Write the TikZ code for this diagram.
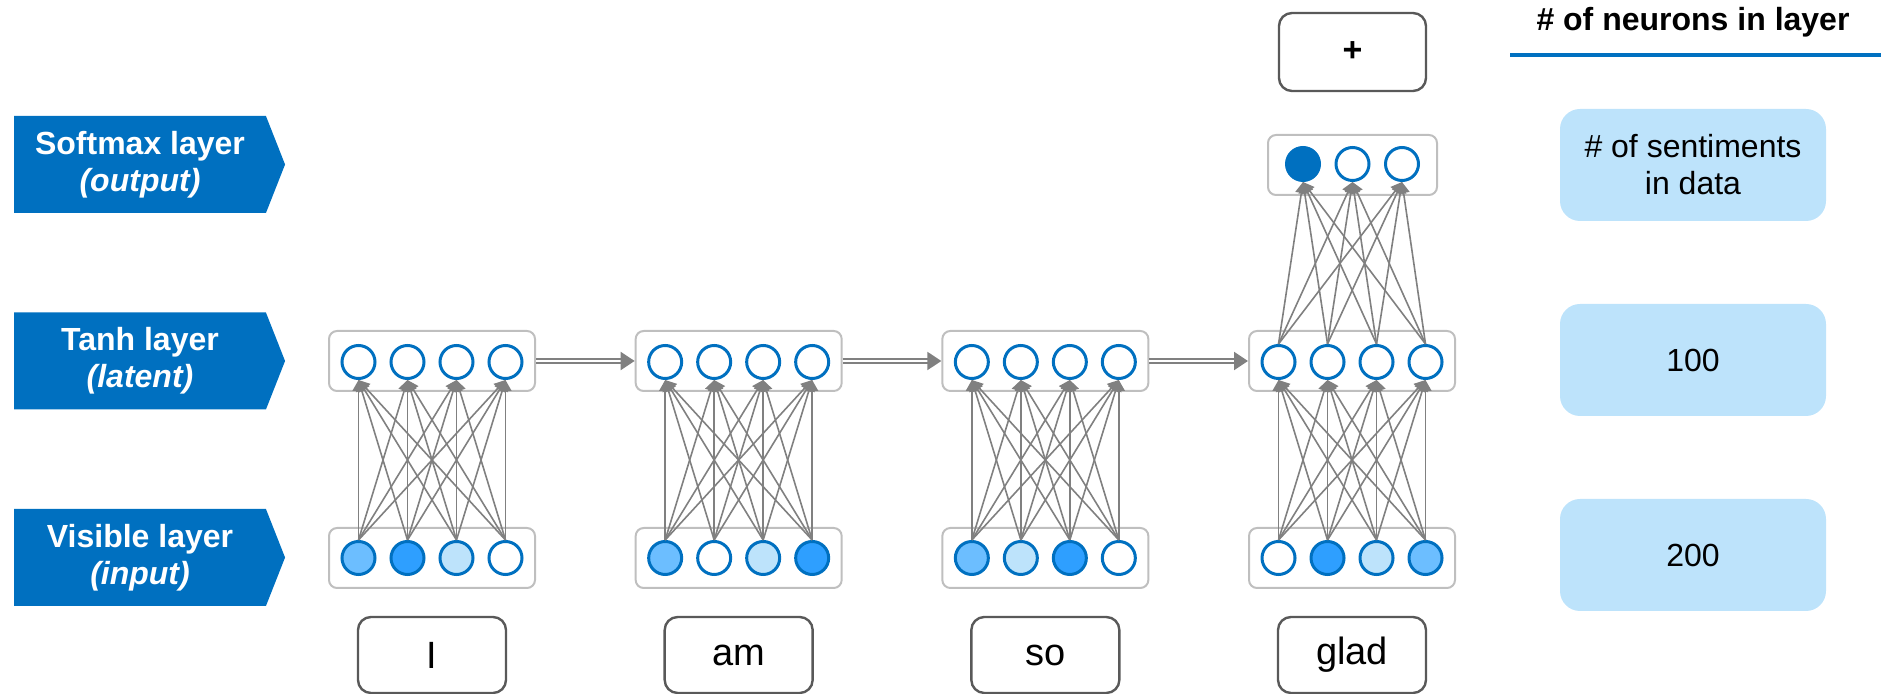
\documentclass[tikz,border=0pt]{standalone}
\usepackage{fontspec}
\setmainfont{Liberation Sans}
\usetikzlibrary{arrows.meta,shapes.symbols}

\definecolor{nnblue}{HTML}{0070C0}
\definecolor{nngray}{HTML}{808080}
\definecolor{boxgray}{HTML}{BFBFBF}
\definecolor{wordgray}{HTML}{595959}
\definecolor{pale}{HTML}{BDE3FB}
\definecolor{mid}{HTML}{6CBEFF}
\definecolor{strong}{HTML}{2E9FFF}

\tikzset{
  banner/.style={signal, signal to=east, signal pointer angle=137,
    fill=nnblue, text=white, minimum width=135.5pt, minimum height=48.5pt,
    inner sep=0pt, align=center, font=\fontsize{16}{18.5}\selectfont\bfseries},
  neuron/.style={circle, draw=nnblue, line width=1.5pt, minimum size=16.5pt, inner sep=0pt},
  layerbox/.style={draw=boxgray, line width=1pt, rounded corners=4pt,
    minimum width=103pt, minimum height=30pt},
  wordbox/.style={draw=wordgray, line width=1.2pt, rounded corners=6.5pt,
    minimum width=74pt, minimum height=38pt, font=\fontsize{19}{22}\selectfont},
  sizebox/.style={fill=pale, rounded corners=10pt, minimum width=133pt,
    minimum height=56pt, align=center, font=\fontsize{16}{18.5}\selectfont},
  link/.style={draw=nngray, line width=0.8pt, -{Triangle[length=5.5pt,width=6pt]}},
  carry/.style={draw=nngray, double=white, double distance=1pt, line width=1pt,
    -{Triangle[length=7pt,width=9pt]}},
}

\begin{document}
\begin{tikzpicture}[x=0.5pt, y=-0.5pt]
  \useasboundingbox (0,0) rectangle (1881,694);

  \node[banner] (soft) at (140,164.5) {Softmax layer\\\textit{(output)}};
  \node[banner] (tanh) at (140,361) {Tanh layer\\\textit{(latent)}};
  \node[banner] (vis) at (140,557.5) {Visible layer\\\textit{(input)}};

  \foreach \g/\fa/\fb/\fc/\fd in {1/mid/strong/pale/white, 2/mid/white/pale/strong,
      3/mid/pale/strong/white, 4/white/strong/pale/mid} {
    \pgfmathsetmacro\cx{432+306.67*(\g-1)}
    \node[layerbox] (vbox-\g) at (\cx,558) {};
    \node[layerbox] (hbox-\g) at (\cx,361) {};
    \foreach \k/\f in {1/\fa,2/\fb,3/\fc,4/\fd} {
      \node[neuron, fill=\f] (v-\g-\k) at ({\cx+49*(\k-2.5)},558) {};
      \node[neuron, fill=white] (h-\g-\k) at ({\cx+49*(\k-2.5)},362) {};
    }
    \foreach \a in {1,...,4}
      \foreach \b in {1,...,4}
        \draw[link] (v-\g-\a.north) -- (h-\g-\b.south);
  }

  \foreach \g/\n in {1/2,2/3,3/4}
    \draw[carry] (hbox-\g) -- (hbox-\n);

  \node[layerbox, minimum width=84.5pt] (obox) at (1352.5,165) {};
  \foreach \k/\f in {1/nnblue,2/white,3/white}
    \node[neuron, fill=\f] (o-\k) at ({1352.5+49.5*(\k-2)},164) {};
  \foreach \a in {1,...,4}
    \foreach \b in {1,2,3}
      \draw[link] (h-4-\a.north) -- (o-\b.south);

  \node[wordbox, minimum width=73.5pt, minimum height=39pt,
    font=\fontsize{17}{20}\selectfont\bfseries] (plus) at (1352.5,52) {+};
  \foreach \g/\w in {1/I,2/am,3/so,4/glad}
    \node[wordbox] (word-\g) at ({432+306.67*(\g-1)},655) {\w};

  \node[font=\fontsize{16}{18.5}\selectfont\bfseries] (head) at (1693,22) {\# of neurons in layer};
  \draw[nnblue, line width=2pt] (1510,55) -- (1881,55);
  \node[sizebox] (n-out) at (1693,165) {\# of sentiments\\in data};
  \node[sizebox] (n-hid) at (1693,360) {100};
  \node[sizebox] (n-vis) at (1693,555) {200};
\end{tikzpicture}
\end{document}
